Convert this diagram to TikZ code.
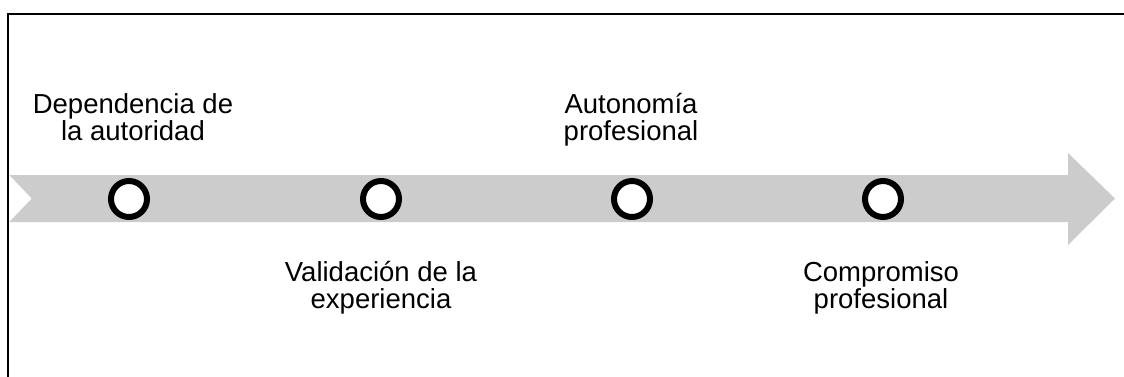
\documentclass[tikz,border=0pt]{standalone}
\usepackage{fontspec}
\setmainfont{Liberation Sans}
\begin{document}
\begin{tikzpicture}[x=1pt,y=-1pt,
  lbl/.style={inner sep=0pt,align=center,font=\fontsize{27.5}{27}\selectfont,anchor=base},
  milestone/.style={circle,draw=black,line width=6pt,fill=white,minimum size=36pt,inner sep=0pt}]
\useasboundingbox (0,0) rectangle (1124,376);
\draw[line width=2pt,black] (7.7,380) -- (7.7,14.3) -- (1130,14.3);
\fill[fill={rgb,255:red,204;green,204;blue,204}]
  (9.3,175) -- (1068,175) -- (1068,153) -- (1115,198.5) -- (1068,245) -- (1068,222) -- (9.3,222) -- (31.7,198.5) -- cycle;
\node[milestone] (m1) at (129,199) {};
\node[milestone] (m2) at (381,199) {};
\node[milestone] (m3) at (632,199) {};
\node[milestone] (m4) at (883,199) {};
\node[lbl] (l1) at (133,140) {Dependencia de\\la autoridad};
\node[lbl] (l3) at (631,140) {Autonomía\\profesional};
\node[lbl] (l2) at (381,308) {Validación de la\\experiencia};
\node[lbl] (l4) at (881,308) {Compromiso\\profesional};
\end{tikzpicture}
\end{document}
